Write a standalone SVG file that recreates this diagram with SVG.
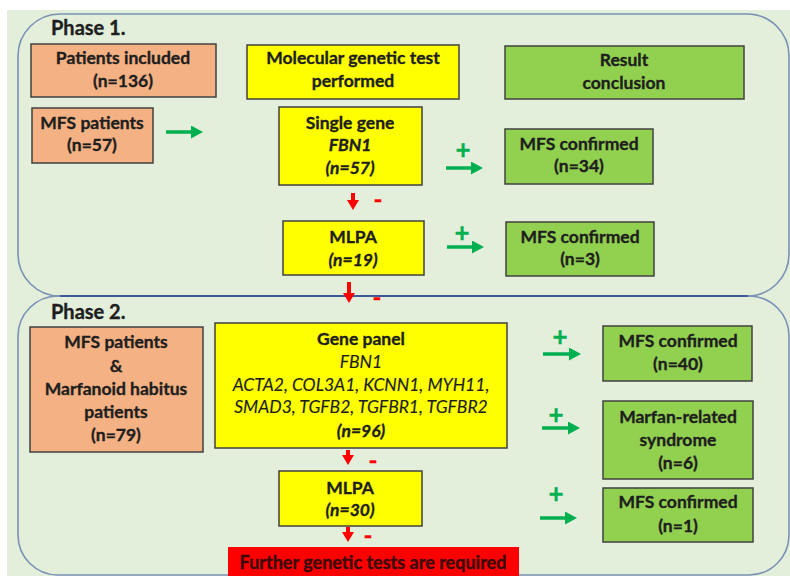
<svg xmlns="http://www.w3.org/2000/svg" width="790" height="576" viewBox="0 0 790 576">
<style>
.bg{fill:#e3eedb}
.phase{fill:none;stroke:#7a92b4;stroke-width:1.6}
.box{stroke:#404040;stroke-width:1.5}
.salmon{fill:#f4b183}
.yellow{fill:#ffff00}
.green{fill:#92d050}
.red{fill:#ff0000}
text{font-family:Lato,"Open Sans","Liberation Sans",sans-serif;font-size:17.5px;fill:#1e1e1e;stroke:#1e1e1e;stroke-width:0.35;text-anchor:middle;font-weight:bold}
.ph{font-size:20px;text-anchor:start}
.i{font-style:italic;font-weight:normal;stroke-width:0.15}
.bi{font-style:italic}
.plus{fill:#00b050;stroke:#00b050;font-size:26px;font-weight:bold}
.minus{fill:#ff0000;stroke:#ff0000;font-size:24px;font-weight:bold}
.ga{stroke:#00b050;stroke-width:3.5}
.ra{stroke:#ff0000;stroke-width:4}
</style>
<defs>
<marker id="gh" markerUnits="userSpaceOnUse" markerWidth="12" markerHeight="13" viewBox="0 0 12 13" refX="3" refY="6.5" orient="auto"><path d="M0,0 L12,6.5 L0,13 z" fill="#00b050"/></marker>
<marker id="rh" markerUnits="userSpaceOnUse" markerWidth="10" markerHeight="12" viewBox="0 0 10 12" refX="2" refY="6" orient="auto"><path d="M0,0 L10,6 L0,12 z" fill="#ff0000"/></marker>
</defs>
<rect x="7" y="10" width="783" height="566" class="bg"/>
<g id="phase1">
<rect x="18" y="14" width="771" height="282" rx="42" ry="42" class="phase"/>
<text x="51" y="35" class="ph">Phase 1.</text>
</g>
<g id="phase2">
<rect x="18" y="296" width="771" height="279" rx="40" ry="40" class="phase"/>
<line x1="60" y1="296" x2="748" y2="296" stroke="#3a5a98" stroke-width="1.8"/>
<text x="51" y="319" class="ph">Phase 2.</text>
</g>
<g id="n-patients-included">
<rect x="31" y="44" width="185" height="53" class="box salmon"/>
<text x="123" y="64">Patients included</text>
<text x="123" y="87">(n=136)</text>
</g>
<g id="n-mfs-patients-1">
<rect x="32" y="108" width="121" height="55" class="box salmon"/>
<text x="92" y="129">MFS patients</text>
<text x="92" y="151">(n=57)</text>
</g>
<g id="n-molecular">
<rect x="247" y="45" width="212" height="54" class="box yellow"/>
<text x="353" y="64">Molecular genetic test</text>
<text x="353" y="87">performed</text>
</g>
<g id="n-result">
<rect x="505" y="46" width="239" height="53" class="box green"/>
<text x="624" y="66">Result</text>
<text x="624" y="89">conclusion</text>
</g>
<g id="n-single-gene">
<rect x="279" y="107" width="143" height="78" class="box yellow"/>
<text x="350" y="129">Single gene</text>
<text x="350" y="151" class="bi">FBN1</text>
<text x="350" y="174" class="bi">(n=57)</text>
</g>
<g id="n-mlpa-1">
<rect x="283" y="221" width="141" height="54" class="box yellow"/>
<text x="353" y="243">MLPA</text>
<text x="353" y="266" class="bi">(n=19)</text>
</g>
<g id="n-confirmed-34">
<rect x="505" y="129" width="148" height="55" class="box green"/>
<text x="579" y="150">MFS confirmed</text>
<text x="579" y="172">(n=34)</text>
</g>
<g id="n-confirmed-3">
<rect x="506" y="222" width="148" height="54" class="box green"/>
<text x="580" y="243">MFS confirmed</text>
<text x="580" y="265">(n=3)</text>
</g>
<g id="n-mfs-marfanoid">
<rect x="30" y="327" width="173" height="125" class="box salmon"/>
<text x="116" y="348">MFS patients</text>
<text x="116" y="372">&amp;</text>
<text x="116" y="395">Marfanoid habitus</text>
<text x="116" y="418">patients</text>
<text x="116" y="441">(n=79)</text>
</g>
<g id="n-gene-panel">
<rect x="215" y="323" width="292" height="125" class="box yellow"/>
<text x="361" y="345">Gene panel</text>
<text x="361" y="368" class="i">FBN1</text>
<text x="361" y="391" class="i">ACTA2, COL3A1, KCNN1, MYH11,</text>
<text x="361" y="413" class="i">SMAD3, TGFB2, TGFBR1, TGFBR2</text>
<text x="361" y="437" class="bi">(n=96)</text>
</g>
<g id="n-mlpa-2">
<rect x="279" y="471" width="143" height="55" class="box yellow"/>
<text x="350" y="494">MLPA</text>
<text x="350" y="516" class="bi">(n=30)</text>
</g>
<g id="n-further">
<rect x="228" y="547" width="291" height="29" fill="#ff0000"/>
<text x="373" y="569" style="font-size:18px;fill:#3b0a0a;stroke:#3b0a0a;stroke-width:0.35">Further genetic tests are required</text>
</g>
<g id="n-confirmed-40">
<rect x="603" y="326" width="149" height="55" class="box green"/>
<text x="678" y="347">MFS confirmed</text>
<text x="678" y="370">(n=40)</text>
</g>
<g id="n-marfan-related">
<rect x="603" y="401" width="150" height="78" class="box green"/>
<text x="678" y="423">Marfan-related</text>
<text x="678" y="446">syndrome</text>
<text x="678" y="469">(n=6)</text>
</g>
<g id="n-confirmed-1">
<rect x="603" y="488" width="150" height="54" class="box green"/>
<text x="678" y="508">MFS confirmed</text>
<text x="678" y="532">(n=1)</text>
</g>
<g id="connectors">
<line x1="166" y1="132" x2="194" y2="132" class="ga" marker-end="url(#gh)"/>
<line x1="446" y1="168" x2="474" y2="168" class="ga" marker-end="url(#gh)"/>
<text x="463" y="159" class="plus">+</text>
<line x1="447" y1="247" x2="475" y2="247" class="ga" marker-end="url(#gh)"/>
<text x="462" y="242" class="plus">+</text>
<line x1="543" y1="354" x2="572" y2="354" class="ga" marker-end="url(#gh)"/>
<text x="560" y="346" class="plus">+</text>
<line x1="542" y1="428" x2="571" y2="428" class="ga" marker-end="url(#gh)"/>
<text x="556" y="424" class="plus">+</text>
<line x1="540" y1="518" x2="568" y2="518" class="ga" marker-end="url(#gh)"/>
<text x="556" y="503" class="plus">+</text>
<line x1="353" y1="193" x2="353" y2="202" class="ra" marker-end="url(#rh)"/>
<text x="378" y="208" class="minus">-</text>
<line x1="349" y1="282" x2="349" y2="295" class="ra" marker-end="url(#rh)"/>
<text x="377" y="306" class="minus">-</text>
<line x1="348" y1="450" x2="348" y2="457" class="ra" marker-end="url(#rh)"/>
<text x="373" y="469" class="minus">-</text>
<line x1="348" y1="527" x2="348" y2="534" class="ra" marker-end="url(#rh)"/>
<text x="368" y="544" class="minus">-</text>
</g>
</svg>
